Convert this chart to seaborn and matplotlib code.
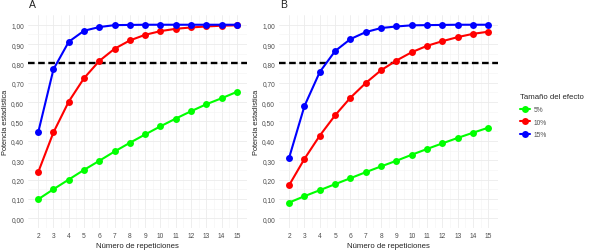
import numpy as np
import pandas as pd
import seaborn as sns
import matplotlib
matplotlib.use("Agg")
import matplotlib.pyplot as plt
from matplotlib.ticker import FixedLocator, FuncFormatter
from matplotlib.lines import Line2D

repeticiones = list(range(2, 16))
efectos = ["5%", "10%", "15%"]
colores = {"5%": "#00FF00", "10%": "#FF0000", "15%": "#0000FF"}

# Panel A
a_5 = [0.098, 0.150, 0.200, 0.250, 0.297, 0.345, 0.390, 0.433, 0.475, 0.515, 0.553, 0.589, 0.620, 0.653]
a_10 = [0.238, 0.444, 0.603, 0.724, 0.813, 0.876, 0.919, 0.948, 0.967, 0.979, 0.986, 0.991, 0.995, 0.997]
a_15 = [0.444, 0.770, 0.912, 0.969, 0.988, 0.998, 0.999, 1.000, 1.000, 1.000, 1.000, 1.000, 1.000, 1.000]
# Panel B
b_5 = [0.081, 0.114, 0.145, 0.176, 0.207, 0.238, 0.268, 0.297, 0.328, 0.358, 0.387, 0.415, 0.442, 0.468]
b_10 = [0.171, 0.307, 0.427, 0.532, 0.623, 0.699, 0.765, 0.815, 0.858, 0.891, 0.915, 0.936, 0.953, 0.964]
b_15 = [0.313, 0.580, 0.756, 0.864, 0.926, 0.962, 0.983, 0.991, 0.997, 0.998, 0.999, 1.000, 1.000, 1.000]

umbral = 0.80
y_ticks = [0.0, 0.1, 0.2, 0.3, 0.4, 0.5, 0.6, 0.7, 0.8, 0.9, 1.0]


def make_df(v5, v10, v15):
    rows = []
    for ef, vals in zip(efectos, [v5, v10, v15]):
        for r, v in zip(repeticiones, vals):
            rows.append({"rep": r, "pot": v, "efecto": ef})
    return pd.DataFrame(rows)


dfA = make_df(a_5, a_10, a_15)
dfB = make_df(b_5, b_10, b_15)

sns.set_theme(style="white")
plt.rcParams['font.family'] = ['Liberation Sans', 'DejaVu Sans']

fig = plt.figure(figsize=(5.89, 2.51), dpi=100)
axA = fig.add_axes([0.048, 0.088, 0.371, 0.848])
axB = fig.add_axes([0.474, 0.088, 0.372, 0.848])

for ax, df, letra in [(axA, dfA, "A"), (axB, dfB, "B")]:
    ax.axhline(umbral, color="black", linewidth=1.7, linestyle=(0, (2.8, 1.5)), zorder=1)
    sns.lineplot(data=df, x="rep", y="pot", hue="efecto", hue_order=efectos,
                 palette=colores, marker="o", markersize=5.0, markeredgewidth=0,
                 linewidth=1.5, ax=ax, legend=False, zorder=3)
    ax.set_xlim(1.35, 15.65)
    ax.set_ylim(-0.05, 1.05)
    ax.xaxis.set_major_locator(FixedLocator(repeticiones))
    ax.xaxis.set_minor_locator(FixedLocator([r + 0.5 for r in repeticiones[:-1]]))
    ax.yaxis.set_major_locator(FixedLocator(y_ticks))
    ax.yaxis.set_minor_locator(FixedLocator([t + 0.05 for t in y_ticks[:-1]]))
    ax.yaxis.set_major_formatter(FuncFormatter(lambda v, p: f"{v:.2f}".replace(".", ",")))
    ax.grid(True, which="major", color="#EBEBEB", linewidth=0.6, zorder=0)
    ax.grid(True, which="minor", color="#F4F4F4", linewidth=0.4, zorder=0)
    ax.set_axisbelow(True)
    for s in ax.spines.values():
        s.set_visible(False)
    ax.tick_params(axis="both", which="both", length=0, labelsize=4.8,
                   labelcolor="#4D4D4D", pad=3)
    ax.set_xlabel("Número de repeticiones", fontsize=5.6, color="#222222", labelpad=2)
    ax.set_ylabel("Potencia estadística", fontsize=5.3, color="#222222")
    ax.yaxis.set_label_coords(-0.088, 0.5)
    ax.text(0.005, 1.03, letra, transform=ax.transAxes, fontsize=7.5, color="#222222",
            ha="left", va="bottom")

handles = [Line2D([0], [0], color=colores[e], marker="o", markersize=5.0,
                  markeredgewidth=0, linewidth=1.5) for e in efectos]
leg = fig.legend(handles, efectos, title="Tamaño del efecto", loc="center left",
                 bbox_to_anchor=(0.872, 0.535), frameon=False, fontsize=4.8,
                 title_fontsize=5.6, handlelength=1.5, labelspacing=0.85,
                 handletextpad=0.6)
leg._legend_box.align = "left"
for t in leg.get_texts():
    t.set_color("#4D4D4D")

fig.savefig("out.png", dpi=100)
